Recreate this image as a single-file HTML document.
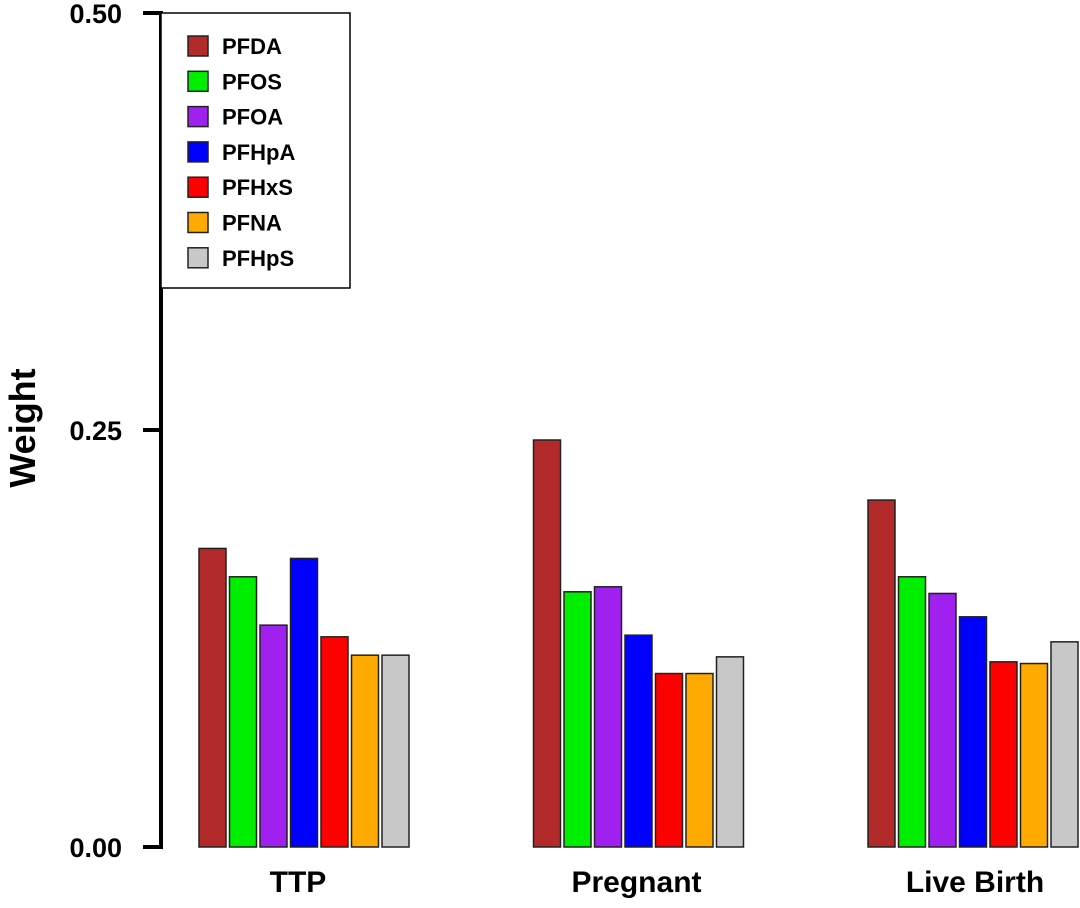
<!DOCTYPE html>
<html><head><meta charset="utf-8"><style>
body{margin:0;background:#fff}
svg text{font-family:"Liberation Sans",Arial,sans-serif;font-weight:bold;fill:#000}
</style></head><body>
<svg id="chart" width="1080" height="903" viewBox="0 0 1080 903" xmlns="http://www.w3.org/2000/svg"></svg>
<script>
const categories = ["TTP", "Pregnant", "Live Birth"];
const seriesNames = ["PFDA","PFOS","PFOA","PFHpA","PFHxS","PFNA","PFHpS"];
const seriesColors = ["#b22a2a","#00ee00","#a020f0","#0000ff","#ff0000","#ffaa00","#c8c8c8"];
const PFDA = [0.179, 0.244, 0.208];
const PFOS = [0.162, 0.153, 0.162];
const PFOA = [0.133, 0.156, 0.152];
const PFHpA = [0.173, 0.127, 0.138];
const PFHxS = [0.126, 0.104, 0.111];
const PFNA = [0.115, 0.104, 0.110];
const PFHpS = [0.115, 0.114, 0.123];
const series = [PFDA, PFOS, PFOA, PFHpA, PFHxS, PFNA, PFHpS];
const yTicks = [0, 0.25, 0.5];
const yTickLabels = ["0.00", "0.25", "0.50"];

const NS = "http://www.w3.org/2000/svg";
const svg = document.getElementById("chart");
const y0 = 847, yTop = 13, yMax = 0.5;
const yScale = v => y0 - (v / yMax) * (y0 - yTop);
const groupStart = i => 199 + i * 334.5;
const barPitch = 30.5, barW = 27;
const xBar = (g, s) => groupStart(g) + s * barPitch;
function mk(tag, attrs){const e=document.createElementNS(NS,tag);for(const k in attrs)e.setAttribute(k,attrs[k]);svg.appendChild(e);return e;}

let ax = mk("line",{x1:161,x2:161,y1:yScale(0)+2,y2:yScale(yMax)-2,stroke:"#000","stroke-width":4});


yTicks.forEach((t,i)=>{
  const tk = mk("line",{x1:143,x2:163,y1:yScale(t),y2:yScale(t),stroke:"#000","stroke-width":4});
  
  
  const lb = mk("text",{x:122,y:yScale(t)+10,"text-anchor":"end","font-size":27});
  lb.textContent = yTickLabels[i];
  
  
});
const yt = mk("text",{x:0,y:0,"text-anchor":"middle","font-size":36,transform:"translate(35,428) rotate(-90)"});
yt.textContent = "Weight";



categories.forEach((c,g)=>{
  series.forEach((arr,s)=>{
    const v = arr[g];
    const r = mk("rect",{x:xBar(g,s),y:yScale(v),width:barW,height:yScale(0)-yScale(v),fill:seriesColors[s],stroke:"#222","stroke-width":1.5});
    
    
  });
  const cx = xBar(g,0) + (xBar(g,6)+barW - xBar(g,0))/2 - 6 + g*4;
  const cl = mk("text",{x:cx,y:892,"text-anchor":"middle","font-size":30});
  cl.textContent = c;
  
  
});

const lg = mk("rect",{x:161,y:13,width:189,height:275,fill:"#fff",stroke:"#000","stroke-width":1.5});


seriesNames.forEach((n,i)=>{
  const yy = 46 + i*35.3;
  const sw = mk("rect",{x:188,y:yy-10,width:20,height:20,fill:seriesColors[i],stroke:"#222","stroke-width":1.5});
  
  
  const tx = mk("text",{x:222,y:yy+8,"font-size":22,fill:"#111133"});
  tx.textContent = n;
  
  
});
</script>
</body></html>
